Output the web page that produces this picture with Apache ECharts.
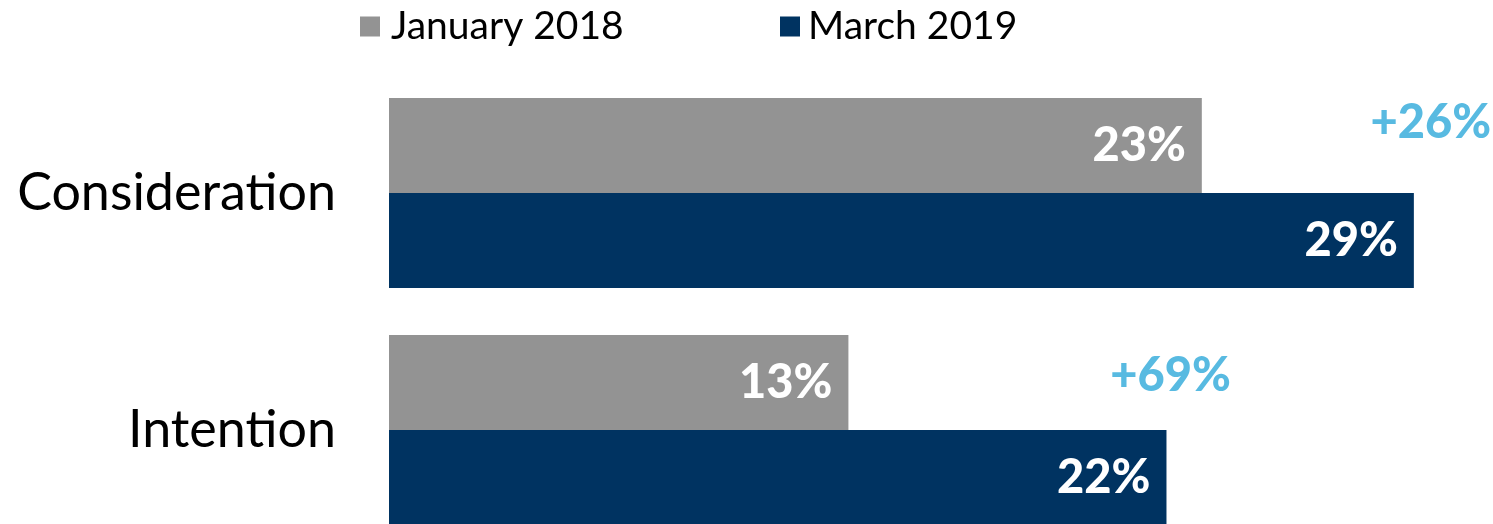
<!DOCTYPE html>
<html>
<head>
<meta charset="utf-8">
<script src="https://cdn.jsdelivr.net/npm/echarts@6/dist/echarts.min.js"></script>
<style>
html,body{margin:0;padding:0;background:#fff;}
#main{width:1493px;height:524px;}
</style>
</head>
<body>
<div id="main"></div>
<script>
var categories = ['Consideration', 'Intention'];
var seriesNames = ['January 2018', 'March 2019'];
var jan2018 = [23, 13];
var mar2019 = [29, 22];
var changeLabels = ['+26%', '+69%'];

var FONT = 'Lato';
var chart = echarts.init(document.getElementById('main'));

var annoOffsets = [[17, -70], [4, -54]];
var annoData = categories.map(function (c, i) {
  return {
    value: [Math.max(jan2018[i], mar2019[i]), c],
    label: { offset: annoOffsets[i], formatter: changeLabels[i] }
  };
});

var valueLabel = {
  show: true,
  position: 'insideRight',
  distance: 16,
  color: '#ffffff',
  fontFamily: FONT,
  fontWeight: 900,
  fontSize: 47,
  formatter: function (p) { return p.value + '%'; }
};

chart.setOption({
  animation: false,
  backgroundColor: '#ffffff',
  legend: [
    {
      data: [seriesNames[0]], left: 355, top: 2, itemWidth: 20, itemHeight: 20,
      icon: 'rect',
      textStyle: { fontFamily: FONT, fontSize: 39, color: '#000', padding: [0, 0, 0, 6] }
    },
    {
      data: [seriesNames[1]], left: 775, top: 2, itemWidth: 20, itemHeight: 20,
      icon: 'rect',
      textStyle: { fontFamily: FONT, fontSize: 39, color: '#000', padding: [0, 0, 0, 3] }
    }
  ],
  grid: {
    left: 389, right: 43.8, top: 74.5, height: 474,
    containLabel: false, outerBoundsMode: 'none'
  },
  xAxis: { type: 'value', min: 0, max: 30, show: false },
  yAxis: {
    type: 'category',
    data: categories,
    inverse: true,
    axisLine: { show: false },
    axisTick: { show: false },
    splitLine: { show: false },
    axisLabel: { fontFamily: FONT, fontSize: 52, color: '#000', margin: 53 }
  },
  series: [
    {
      name: seriesNames[0], type: 'bar', data: jan2018, barWidth: 95, barGap: '0%',
      itemStyle: { color: '#939393' }, label: valueLabel
    },
    {
      name: seriesNames[1], type: 'bar', data: mar2019, barWidth: 95, barGap: '0%',
      itemStyle: { color: '#003361' }, label: valueLabel
    },
    {
      type: 'scatter', data: annoData, symbolSize: 1,
      itemStyle: { color: 'rgba(0,0,0,0)' }, silent: true,
      label: {
        show: true, position: 'inside', color: '#2EA9DA',
        fontFamily: FONT, fontWeight: 900, fontSize: 47
      }
    }
  ]
});
</script>
</body>
</html>
